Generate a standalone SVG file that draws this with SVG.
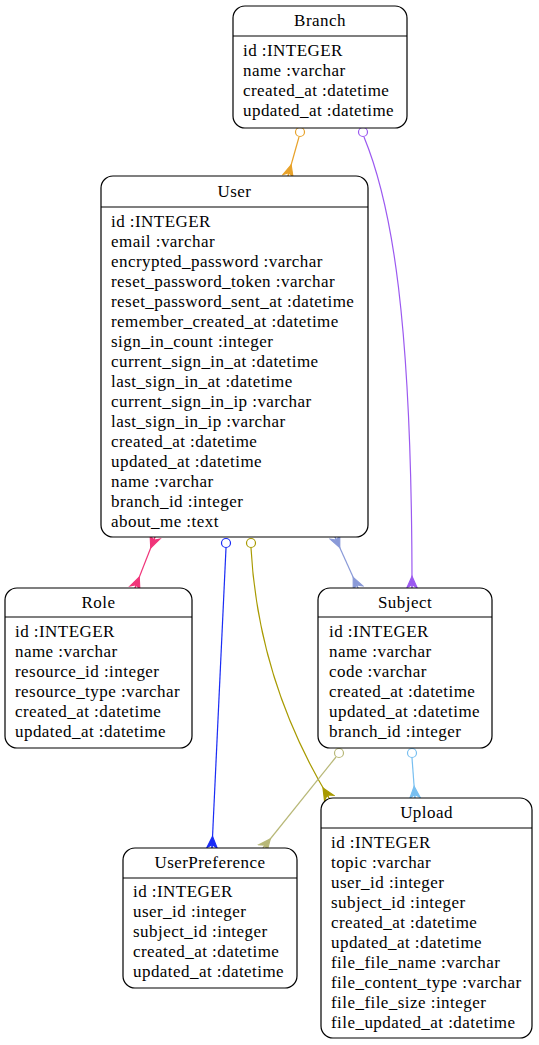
<svg xmlns="http://www.w3.org/2000/svg" width="539" height="1045" viewBox="0 0 539 1045">
<style>
.box{fill:#fff;stroke:#000;stroke-width:1.2}
.sep{stroke:#000;stroke-width:1.2}
.txt text{font-size:17px;letter-spacing:0.45px;fill:#000}
.t{text-anchor:middle}
.e{fill:none;stroke-width:1.2}
.od{fill:#fff;stroke-width:1.2}
</style>
<defs>
<marker id="c-or" markerUnits="userSpaceOnUse" markerWidth="14" markerHeight="14" refX="11" refY="6" orient="auto-start-reverse" viewBox="0 0 12 12"><path d="M1,6 L11,1.5 L8,6 L11,10.5 Z M1,6 L11,6" fill="#e8a22a" stroke="#e8a22a" stroke-width="1"/></marker>
<marker id="c-pu" markerUnits="userSpaceOnUse" markerWidth="14" markerHeight="14" refX="11" refY="6" orient="auto-start-reverse" viewBox="0 0 12 12"><path d="M1,6 L11,1.5 L8,6 L11,10.5 Z M1,6 L11,6" fill="#9b59f0" stroke="#9b59f0" stroke-width="1"/></marker>
<marker id="c-pk" markerUnits="userSpaceOnUse" markerWidth="14" markerHeight="14" refX="11" refY="6" orient="auto-start-reverse" viewBox="0 0 12 12"><path d="M1,6 L11,1.5 L8,6 L11,10.5 Z M1,6 L11,6" fill="#f0357a" stroke="#f0357a" stroke-width="1"/></marker>
<marker id="c-bl" markerUnits="userSpaceOnUse" markerWidth="14" markerHeight="14" refX="11" refY="6" orient="auto-start-reverse" viewBox="0 0 12 12"><path d="M1,6 L11,1.5 L8,6 L11,10.5 Z M1,6 L11,6" fill="#1a2cf5" stroke="#1a2cf5" stroke-width="1"/></marker>
<marker id="c-ol" markerUnits="userSpaceOnUse" markerWidth="14" markerHeight="14" refX="11" refY="6" orient="auto-start-reverse" viewBox="0 0 12 12"><path d="M1,6 L11,1.5 L8,6 L11,10.5 Z M1,6 L11,6" fill="#a89a00" stroke="#a89a00" stroke-width="1"/></marker>
<marker id="c-sb" markerUnits="userSpaceOnUse" markerWidth="14" markerHeight="14" refX="11" refY="6" orient="auto-start-reverse" viewBox="0 0 12 12"><path d="M1,6 L11,1.5 L8,6 L11,10.5 Z M1,6 L11,6" fill="#8a9ad8" stroke="#8a9ad8" stroke-width="1"/></marker>
<marker id="c-kh" markerUnits="userSpaceOnUse" markerWidth="14" markerHeight="14" refX="11" refY="6" orient="auto-start-reverse" viewBox="0 0 12 12"><path d="M1,6 L11,1.5 L8,6 L11,10.5 Z M1,6 L11,6" fill="#b8b878" stroke="#b8b878" stroke-width="1"/></marker>
<marker id="c-lb" markerUnits="userSpaceOnUse" markerWidth="14" markerHeight="14" refX="11" refY="6" orient="auto-start-reverse" viewBox="0 0 12 12"><path d="M1,6 L11,1.5 L8,6 L11,10.5 Z M1,6 L11,6" fill="#78bff0" stroke="#78bff0" stroke-width="1"/></marker>
</defs>

<g id="connectors">
<path class="e" stroke="#e8a22a" d="M299,137 L288,176" marker-end="url(#c-or)"/>
<circle class="od" stroke="#e8a22a" cx="300" cy="132" r="4.5"/>
<path class="e" stroke="#9b59f0" d="M364,137 C392,205 412,320 412,588" marker-end="url(#c-pu)"/>
<circle class="od" stroke="#9b59f0" cx="363" cy="132" r="4.5"/>
<path class="e" stroke="#f0357a" d="M155,537 L135,588" marker-start="url(#c-pk)" marker-end="url(#c-pk)"/>
<path class="e" stroke="#1a2cf5" d="M226,548 L212,848" marker-end="url(#c-bl)"/>
<circle class="od" stroke="#1a2cf5" cx="226" cy="543" r="4.5"/>
<path class="e" stroke="#a89a00" d="M251,548 C256,640 285,725 329,798" marker-end="url(#c-ol)"/>
<circle class="od" stroke="#a89a00" cx="251" cy="543" r="4.5"/>
<path class="e" stroke="#8a9ad8" d="M335,537 L358,588" marker-start="url(#c-sb)" marker-end="url(#c-sb)"/>
<path class="e" stroke="#b8b878" d="M336,757 L263,848" marker-end="url(#c-kh)"/>
<circle class="od" stroke="#b8b878" cx="339" cy="753" r="4.5"/>
<path class="e" stroke="#78bff0" d="M412,758 L415,798" marker-end="url(#c-lb)"/>
<circle class="od" stroke="#78bff0" cx="412" cy="753" r="4.5"/>
</g>

<g class="txt" font-family="'Liberation Serif', 'Times New Roman', Times, serif" font-size="17">
<g id="Branch">
<rect class="box" x="233" y="6" width="174" height="122" rx="12"/>
<line class="sep" x1="233" y1="36" x2="407" y2="36"/>
<text class="t" x="320" y="26">Branch</text>
<text x="243" y="56">id :INTEGER</text>
<text x="243" y="76">name :varchar</text>
<text x="243" y="96">created_at :datetime</text>
<text x="243" y="116">updated_at :datetime</text>
</g>

<g id="User">
<rect class="box" x="101" y="176" width="267" height="361" rx="12"/>
<line class="sep" x1="101" y1="207" x2="368" y2="207"/>
<text class="t" x="234.5" y="197">User</text>
<text x="111" y="227">id :INTEGER</text>
<text x="111" y="247">email :varchar</text>
<text x="111" y="267">encrypted_password :varchar</text>
<text x="111" y="287">reset_password_token :varchar</text>
<text x="111" y="307">reset_password_sent_at :datetime</text>
<text x="111" y="327">remember_created_at :datetime</text>
<text x="111" y="347">sign_in_count :integer</text>
<text x="111" y="367">current_sign_in_at :datetime</text>
<text x="111" y="387">last_sign_in_at :datetime</text>
<text x="111" y="407">current_sign_in_ip :varchar</text>
<text x="111" y="427">last_sign_in_ip :varchar</text>
<text x="111" y="447">created_at :datetime</text>
<text x="111" y="467">updated_at :datetime</text>
<text x="111" y="487">name :varchar</text>
<text x="111" y="507">branch_id :integer</text>
<text x="111" y="527">about_me :text</text>
</g>

<g id="Role">
<rect class="box" x="5" y="588" width="187" height="160" rx="12"/>
<line class="sep" x1="5" y1="617" x2="192" y2="617"/>
<text class="t" x="98.5" y="608">Role</text>
<text x="15" y="637">id :INTEGER</text>
<text x="15" y="657">name :varchar</text>
<text x="15" y="677">resource_id :integer</text>
<text x="15" y="697">resource_type :varchar</text>
<text x="15" y="717">created_at :datetime</text>
<text x="15" y="737">updated_at :datetime</text>
</g>

<g id="Subject">
<rect class="box" x="318" y="588" width="174" height="160" rx="12"/>
<line class="sep" x1="318" y1="617" x2="492" y2="617"/>
<text class="t" x="405" y="608">Subject</text>
<text x="329" y="637">id :INTEGER</text>
<text x="329" y="657">name :varchar</text>
<text x="329" y="677">code :varchar</text>
<text x="329" y="697">created_at :datetime</text>
<text x="329" y="717">updated_at :datetime</text>
<text x="329" y="737">branch_id :integer</text>
</g>

<g id="UserPreference">
<rect class="box" x="123" y="848" width="174" height="140" rx="12"/>
<line class="sep" x1="123" y1="878" x2="297" y2="878"/>
<text class="t" x="210" y="868">UserPreference</text>
<text x="133" y="897">id :INTEGER</text>
<text x="133" y="917">user_id :integer</text>
<text x="133" y="937">subject_id :integer</text>
<text x="133" y="957">created_at :datetime</text>
<text x="133" y="977">updated_at :datetime</text>
</g>

<g id="Upload">
<rect class="box" x="321" y="798" width="211" height="240" rx="12"/>
<line class="sep" x1="321" y1="828" x2="532" y2="828"/>
<text class="t" x="426.5" y="818">Upload</text>
<text x="331" y="848">id :INTEGER</text>
<text x="331" y="868">topic :varchar</text>
<text x="331" y="888">user_id :integer</text>
<text x="331" y="908">subject_id :integer</text>
<text x="331" y="928">created_at :datetime</text>
<text x="331" y="948">updated_at :datetime</text>
<text x="331" y="968">file_file_name :varchar</text>
<text x="331" y="988">file_content_type :varchar</text>
<text x="331" y="1008">file_file_size :integer</text>
<text x="331" y="1028">file_updated_at :datetime</text>
</g>
</g>
</svg>
